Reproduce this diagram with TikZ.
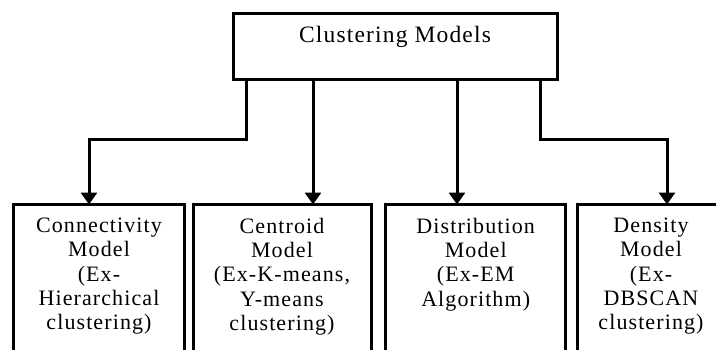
\documentclass[tikz,border=0pt]{standalone}
\usepackage{fontspec}
\setmainfont{Liberation Serif}[LetterSpace=5]
\usetikzlibrary{arrows.meta, positioning}

\begin{document}
\begin{tikzpicture}[x=1pt, y=1pt,
    rootbox/.style={draw, rectangle, line width=3pt, inner sep=0pt, outer sep=0pt, minimum width=324pt, text height=29pt, text depth=37pt, font=\fontsize{23.5}{27}\selectfont},
    modelbox/.style={draw, rectangle, line width=3pt, inner xsep=0pt, inner ysep=13.5pt, outer sep=0pt, anchor=north west, align=center, text depth=200pt, font=\fontsize{22}{24.3}\selectfont},
    link/.style={line width=3pt, -{Triangle[width=16pt, length=12pt]}}
  ]
  \clip (0,0) rectangle (716,349);

  % Root
  \node[rootbox, anchor=north west] (root) at (233,335) {Clustering Models};

  % Models
  \node[modelbox, minimum width=170.6pt] (conn) at (13.7,144.5) {Connectivity\\Model\\(Ex-\\Hierarchical\\clustering)};
  \node[modelbox, minimum width=178pt] (cent) at ([xshift=8.7pt]conn.north east) {Centroid\\Model\\(Ex-K-means,\\Y-means\\clustering)};
  \node[modelbox, minimum width=180pt] (dist) at ([xshift=14.7pt]cent.north east) {Distribution\\Model\\(Ex-EM\\Algorithm)};
  \node[modelbox, minimum width=148pt] (dens) at ([xshift=11.3pt]dist.north east) {Density\\Model\\(Ex-\\DBSCAN\\clustering)};

  % Links
  \draw[link] ([xshift=13pt]root.south west) -- ++(0,-59) -| ([xshift=75.3pt]conn.north west);
  \draw[link] ([xshift=80pt]root.south west) -- ([xshift=120pt]cent.north west);
  \draw[link] ([xshift=224pt]root.south west) -- ([xshift=71.3pt]dist.north west);
  \draw[link] ([xshift=-17pt]root.south east) -- ++(0,-59) -| ([xshift=90pt]dens.north west);
\end{tikzpicture}
\end{document}
